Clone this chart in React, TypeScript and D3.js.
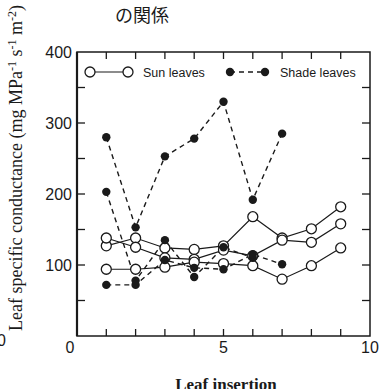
import * as d3 from "d3";

// Leaf insertion positions
const sunX = [1, 2, 3, 4, 5, 6, 7, 8, 9];
const shadeX = [1, 2, 3, 4, 5, 6, 7];

// Sun leaves (open circles, solid)
const sun1 = [127, 138, 124, 122, 127, 168, 138, 151, 182];
const sun2 = [138, 125, 110, 108, 121, 113, 135, 132, 158];
const sun3 = [94, 94, 97, 104, 102, 99, 80, 99, 124];

// Shade leaves (filled circles, dashed)
const shade1 = [280, 153, 253, 278, 330, 192, 285];
const shade2 = [203, 78, 135, 83, 125, 110];
const shade3 = [72, 72, 107, 96, 94, 115, 101];

const xTickLabels = [0, 5, 10];
const yTickLabels = [100, 200, 300, 400];

const W = 379;
const H = 389;
const PAD = { left: 77, right: 9, top: 52, bottom: 53 };

export default function App() {
  const x = d3.scaleLinear().domain([0, 10]).range([PAD.left, W - PAD.right]);
  const y = d3.scaleLinear().domain([0, 400]).range([H - PAD.bottom, PAD.top]);
  const line = d3
    .line<[number, number]>()
    .x((d) => x(d[0]))
    .y((d) => y(d[1]));

  const sunSeries = [sun1, sun2, sun3].map((vals) => vals.map((v, i) => [sunX[i], v] as [number, number]));
  const shadeSeries = [shade1, shade2, shade3].map((vals) => vals.map((v, i) => [shadeX[i], v] as [number, number]));

  const xMinor = d3.range(1, 10);
  const yMinor = d3.range(50, 400, 50);
  const sans = "'Liberation Sans', Arial, sans-serif";
  const serif = "'Liberation Serif', 'DejaVu Serif', serif";
  const ink = "#1a1a1a";

  return (
    <div style={{ position: "absolute", left: 0, top: 0 }}>
      <svg width={W} height={H} viewBox={`0 0 ${W} ${H}`} style={{ display: "block", background: "#fff" }}>
        <text x={115} y={22} fontFamily="'Noto Sans CJK JP', sans-serif" fontSize={18} fill={ink}>
          の関係
        </text>

        {/* frame */}
        <rect
          x={PAD.left}
          y={PAD.top}
          width={W - PAD.left - PAD.right}
          height={H - PAD.top - PAD.bottom}
          fill="none"
          stroke={ink}
          strokeWidth={1.5}
        />
        <line x1={x(0)} x2={x(0)} y1={y(0)} y2={y(400)} stroke={ink} strokeWidth={2.2} />

        {/* ticks */}
        {xMinor.map((t) => (
          <g key={`xt${t}`}>
            <line x1={x(t)} x2={x(t)} y1={y(0)} y2={y(0) - 7} stroke={ink} strokeWidth={1.3} />
            <line x1={x(t)} x2={x(t)} y1={y(400)} y2={y(400) + 7} stroke={ink} strokeWidth={1.3} />
          </g>
        ))}
        {yMinor.map((t) => (
          <g key={`yt${t}`}>
            <line x1={x(0)} x2={x(0) + 8} y1={y(t)} y2={y(t)} stroke={ink} strokeWidth={1.3} />
            <line x1={x(10)} x2={x(10) - 8} y1={y(t)} y2={y(t)} stroke={ink} strokeWidth={1.3} />
          </g>
        ))}

        {/* tick labels */}
        {yTickLabels.map((t) => (
          <text key={`yl${t}`} x={x(0) - 5} y={y(t) + 6} textAnchor="end" fontFamily={sans} fontSize={16} fill={ink}>
            {t}
          </text>
        ))}
        {xTickLabels.map((t) => (
          <text
            key={`xl${t}`}
            x={t === 0 ? x(t) - 7 : x(t)}
            y={y(0) + 17}
            textAnchor="middle"
            fontFamily={sans}
            fontSize={16}
            fill={ink}
          >
            {t}
          </text>
        ))}
        <text x={6} y={346} textAnchor="end" fontFamily={sans} fontSize={16} fill={ink}>
          0
        </text>

        {/* axis titles */}
        <text
          x={22}
          y={331}
          transform="rotate(-90, 22, 331)"
          fontFamily={serif}
          fontSize={18}
          fill={ink}
        >
          Leaf specific conductance (mg MPa
          <tspan dy={-6} fontSize={12}>-1</tspan>
          <tspan dy={6}> s</tspan>
          <tspan dy={-6} fontSize={12}>-1</tspan>
          <tspan dy={6}> m</tspan>
          <tspan dy={-6} fontSize={12}>-2</tspan>
          <tspan dy={6}>)</tspan>
        </text>
        <text x={226} y={390} textAnchor="middle" fontFamily={serif} fontWeight="bold" fontSize={17} fill={ink}>
          Leaf insertion
        </text>

        {/* shade leaves */}
        {shadeSeries.map((s, i) => (
          <path key={`shl${i}`} d={line(s) ?? ""} fill="none" stroke={ink} strokeWidth={1.4} strokeDasharray="5 4" />
        ))}
        {/* sun leaves */}
        {sunSeries.map((s, i) => (
          <path key={`sul${i}`} d={line(s) ?? ""} fill="none" stroke={ink} strokeWidth={1.2} />
        ))}
        {sunSeries.map((s, i) =>
          s.map((d, j) => (
            <circle key={`suc${i}-${j}`} cx={x(d[0])} cy={y(d[1])} r={5} fill="#fff" stroke={ink} strokeWidth={1.3} />
          )),
        )}
        {shadeSeries.map((s, i) =>
          s.map((d, j) => <circle key={`shc${i}-${j}`} cx={x(d[0])} cy={y(d[1])} r={4.2} fill={ink} />),
        )}

        {/* legend */}
        <g transform="translate(0, 72)">
          <line x1={90} x2={128} y1={0} y2={0} stroke={ink} strokeWidth={1.2} />
          <circle cx={90} cy={0} r={5} fill="#fff" stroke={ink} strokeWidth={1.3} />
          <circle cx={128} cy={0} r={5} fill="#fff" stroke={ink} strokeWidth={1.3} />
          <text x={143} y={4.5} fontFamily={sans} fontSize={12.5} fill={ink}>
            Sun leaves
          </text>
          <line x1={230} x2={265} y1={0} y2={0} stroke={ink} strokeWidth={1.4} strokeDasharray="5 4" />
          <circle cx={230} cy={0} r={4.2} fill={ink} />
          <circle cx={265} cy={0} r={4.2} fill={ink} />
          <text x={280} y={4.5} fontFamily={sans} fontSize={12.5} fill={ink}>
            Shade leaves
          </text>
        </g>
      </svg>
    </div>
  );
}
